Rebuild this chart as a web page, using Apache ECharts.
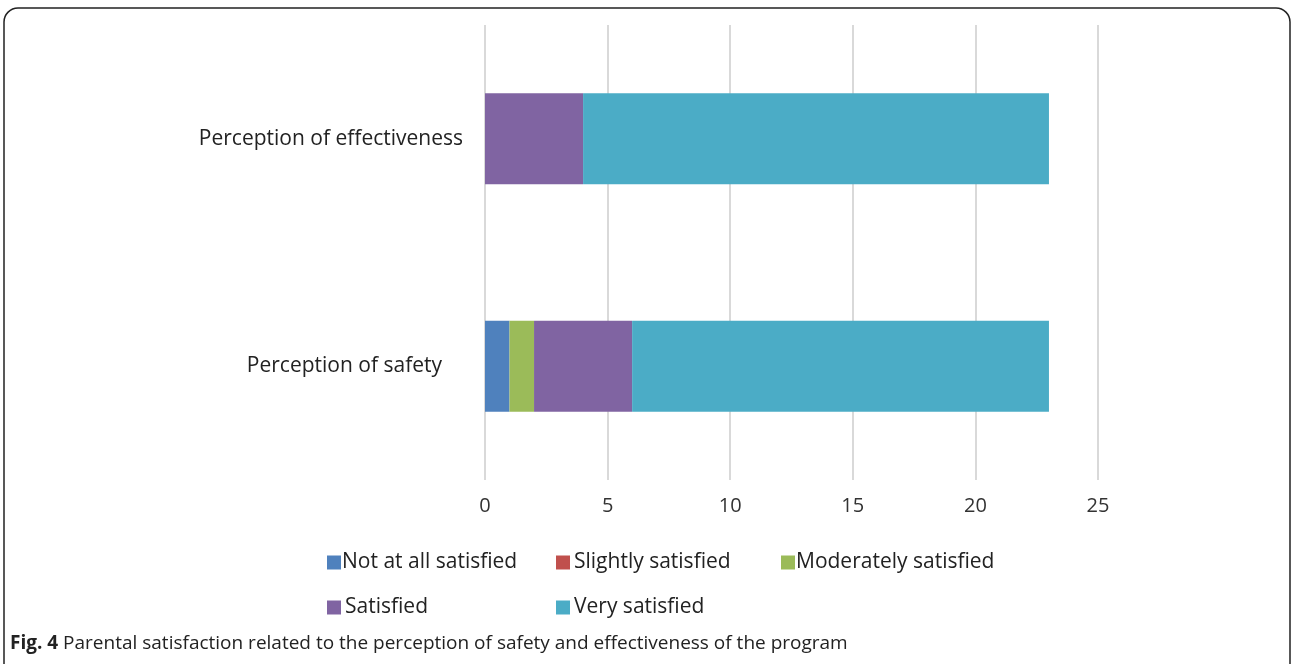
<!DOCTYPE html>
<html><head><meta charset="utf-8">
<script src="https://cdn.jsdelivr.net/npm/echarts@6/dist/echarts.min.js"></script>
<style>html,body{margin:0;padding:0;background:#fff;}#c{width:1292px;height:664px;}</style>
</head><body><div id="c"></div>
<script>
const categories = ['Perception of safety', 'Perception of effectiveness'];
const seriesNames = ['Not at all satisfied', 'Slightly satisfied', 'Moderately satisfied', 'Satisfied', 'Very satisfied'];
const notAtAll = [1, 0];
const slightly = [0, 0];
const moderately = [1, 0];
const satisfied = [4, 4];
const verySatisfied = [17, 19];
const xTicks = [0, 5, 10, 15, 20, 25];
const caption = 'Parental satisfaction related to the perception of safety and effectiveness of the program';

const colors = ['#4F81BD', '#C0504D', '#9BBB59', '#8064A2', '#4BACC6'];
const values = [notAtAll, slightly, moderately, satisfied, verySatisfied];
const font = '"Open Sans", "Liberation Sans", sans-serif';
const legendPos = [[322, 547], [551, 547], [776, 547], [322, 592], [551, 592]];
const legendPad = [-4, -1, -4, -1, -1];

const chart = echarts.init(document.getElementById('c'));
chart.setOption({
  animation: false,
  grid: { left: 485, right: 194, top: 25, bottom: 184 },
  xAxis: {
    type: 'value', min: xTicks[0], max: xTicks[xTicks.length - 1], interval: 5,
    axisLine: { show: false }, axisTick: { show: false },
    axisLabel: { color: '#333', fontSize: 20, fontFamily: font, margin: 16 },
    splitLine: { lineStyle: { color: '#d9d9d9', width: 2 } }
  },
  yAxis: {
    type: 'category', data: categories,
    axisLine: { show: false }, axisTick: { show: false },
    axisLabel: {
      color: '#222', fontSize: 21, fontFamily: font, margin: 22,
      formatter: v => v === 'Perception of safety' ? '{s|' + v + '}' : v,
      rich: { s: { fontSize: 21, fontFamily: font, color: '#222', padding: [0, 21, 0, 0] } }
    }
  },
  legend: seriesNames.map((n, i) => ({
    data: [n], left: legendPos[i][0], top: legendPos[i][1],
    itemWidth: 14, itemHeight: 14, itemGap: 0, icon: 'rect',
    textStyle: { fontSize: 21, fontFamily: font, color: '#222', padding: [0, 0, 0, legendPad[i]] },
    selectedMode: false
  })),
  series: seriesNames.map((n, i) => ({
    name: n, type: 'bar', stack: 'total', data: values[i],
    barWidth: '40%', itemStyle: { color: colors[i] }
  })),
  graphic: [
    { type: 'rect', shape: { x: 4, y: 8, width: 1286, height: 700, r: 14 },
      style: { fill: 'none', stroke: '#222', lineWidth: 1.5 }, silent: true },
    { type: 'text', left: 10, top: 634,
      style: { text: '{b|Fig. 4} ' + caption, font: '19px ' + font, fill: '#222',
        rich: { b: { fontWeight: 'bold', fontSize: 19, fontFamily: font, fill: '#222' } } } }
  ]
});
</script></body></html>
